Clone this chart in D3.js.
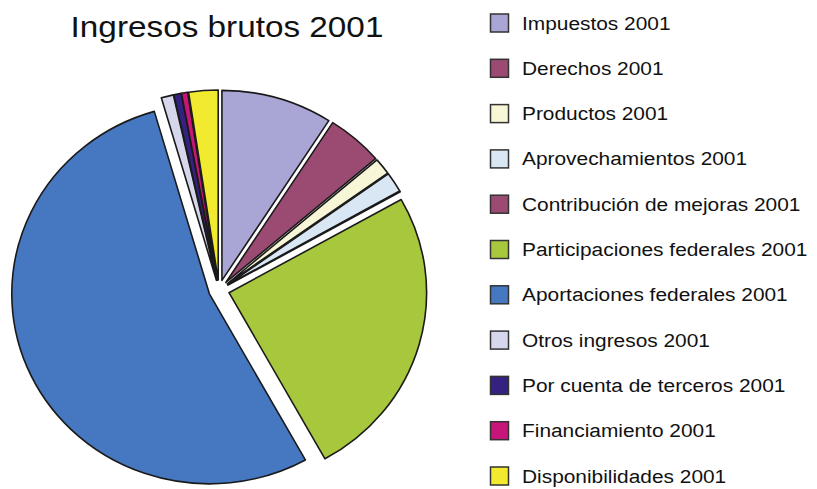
<!DOCTYPE html>
<html lang="es">
<head>
    <meta charset="utf-8">
    <title>Ingresos brutos 2001</title>
    <script src="https://d3js.org/d3.v7.min.js"></script>
    <style>
        body { margin: 0; background: #fff; }
        text { font-family: 'Liberation Sans', Arial, sans-serif; fill: #111; }
    </style>
</head>
<body>
<div id="chart"></div>
<script>
/* global d3 */

// data (share of total, percent)
var categories = [
    "Impuestos 2001",
    "Derechos 2001",
    "Productos 2001",
    "Aprovechamientos 2001",
    "Contribución de mejoras 2001",
    "Participaciones federales 2001",
    "Aportaciones federales 2001",
    "Otros ingresos 2001",
    "Por cuenta de terceros 2001",
    "Financiamiento 2001",
    "Disponibilidades 2001"
];
var values = [9.1, 4.6, 1.4, 1.7, 0.05, 25.1, 53.6, 1.0, 0.6, 0.5, 2.4];
var colors = ["#a9a5d5", "#9b4a72", "#f7f6d6", "#d9e7f5", "#9b4a72", "#a7c73d",
              "#4677c1", "#d6d6ec", "#35217f", "#c8157a", "#f1ea2f"];
var title = "Ingresos brutos 2001";

var width = 817,
    height = 489,
    cx = 219,
    cy = 290,
    r = 190,
    explode = 10,
    stretch = 1.04;   // the source picture is a little wider than tall

var svg = d3.select('#chart')
    .append('svg')
    .attr('width', width)
    .attr('height', height);

svg.append('text')
    .attr('transform', 'translate(227,37) scale(1.11,1)')
    .attr('text-anchor', 'middle')
    .style('font-size', '30px')
    .text(title);

var rows = categories.map(function(c, i) {
    return {name: c, value: values[i], color: colors[i]};
});

var pie = d3.pie()
    .sort(null)
    .value(function(d) { return d.value; });

var arc = d3.arc()
    .innerRadius(0)
    .outerRadius(r);

var g = svg.append('g')
    .attr('transform', 'translate(' + cx + ',' + cy + ') scale(' + stretch + ',1)');

g.selectAll('path')
    .data(pie(rows))
    .enter().append('path')
    .attr('d', arc)
    .attr('transform', function(d) {
        var a = (d.startAngle + d.endAngle) / 2;
        return 'translate(' + (Math.sin(a) * explode) + ',' + (-Math.cos(a) * explode) + ')';
    })
    .attr('fill', function(d) { return d.data.color; })
    .attr('stroke', '#1a1a1a')
    .attr('stroke-width', 1.6)
    .attr('stroke-linejoin', 'round')
    .attr('vector-effect', 'non-scaling-stroke');

// legend
var ly = d3.scalePoint()
    .domain(categories)
    .range([23, 476]);

var item = svg.append('g')
    .selectAll('g')
    .data(rows)
    .enter().append('g')
    .attr('transform', function(d) { return 'translate(490,' + ly(d.name) + ')'; });

item.append('rect')
    .attr('x', 0.5)
    .attr('y', -9)
    .attr('width', 18)
    .attr('height', 18)
    .attr('fill', function(d) { return d.color; })
    .attr('stroke', '#333')
    .attr('stroke-width', 1.5);

item.append('text')
    .attr('transform', 'translate(32,6.5) scale(1.16,1)')
    .style('font-size', '18px')
    .text(function(d) { return d.name; });
</script>
</body>
</html>
